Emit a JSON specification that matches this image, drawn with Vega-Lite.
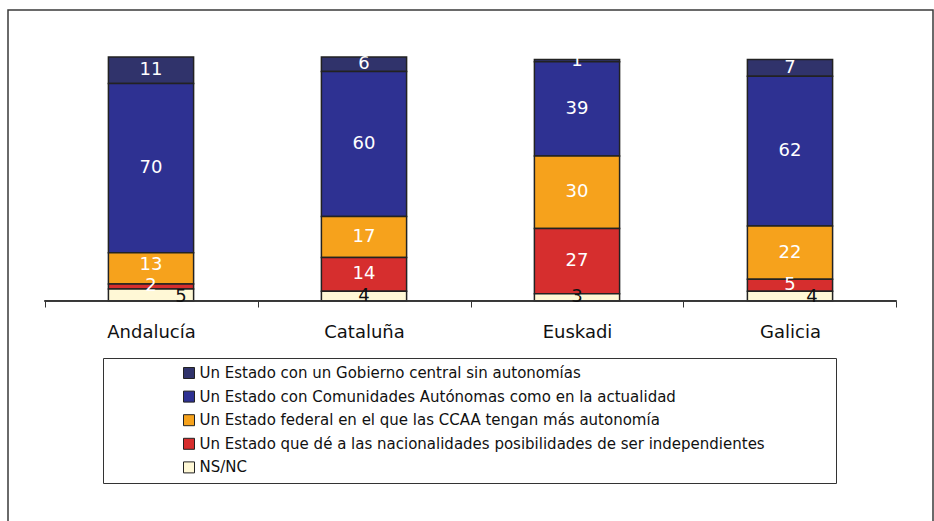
{
  "$schema": "https://vega.github.io/schema/vega-lite/v6.json",
  "autosize": {"type": "none"},
  "width": 925,
  "height": 520,
  "padding": {"left": 8, "top": 10, "right": 1, "bottom": 0},
  "background": "white",
  "config": {
    "view": {"stroke": "#3a3a3a", "strokeWidth": 1.5},
    "font": "DejaVu Sans",
    "legend": {"strokeColor": "#333333"}
  },
  "data": {
    "values": [
      {"region": "Andalucía", "cod": 1, "opcion": "Un Estado con un Gobierno central sin autonomías", "valor": 11},
      {"region": "Andalucía", "cod": 2, "opcion": "Un Estado con Comunidades Autónomas como en la actualidad", "valor": 70},
      {"region": "Andalucía", "cod": 3, "opcion": "Un Estado federal en el que las CCAA tengan más autonomía", "valor": 13},
      {"region": "Andalucía", "cod": 4, "opcion": "Un Estado que dé a las nacionalidades posibilidades de ser independientes", "valor": 2},
      {"region": "Andalucía", "cod": 5, "opcion": "NS/NC", "valor": 5},
      {"region": "Cataluña", "cod": 1, "opcion": "Un Estado con un Gobierno central sin autonomías", "valor": 6},
      {"region": "Cataluña", "cod": 2, "opcion": "Un Estado con Comunidades Autónomas como en la actualidad", "valor": 60},
      {"region": "Cataluña", "cod": 3, "opcion": "Un Estado federal en el que las CCAA tengan más autonomía", "valor": 17},
      {"region": "Cataluña", "cod": 4, "opcion": "Un Estado que dé a las nacionalidades posibilidades de ser independientes", "valor": 14},
      {"region": "Cataluña", "cod": 5, "opcion": "NS/NC", "valor": 4},
      {"region": "Euskadi", "cod": 1, "opcion": "Un Estado con un Gobierno central sin autonomías", "valor": 1},
      {"region": "Euskadi", "cod": 2, "opcion": "Un Estado con Comunidades Autónomas como en la actualidad", "valor": 39},
      {"region": "Euskadi", "cod": 3, "opcion": "Un Estado federal en el que las CCAA tengan más autonomía", "valor": 30},
      {"region": "Euskadi", "cod": 4, "opcion": "Un Estado que dé a las nacionalidades posibilidades de ser independientes", "valor": 27},
      {"region": "Euskadi", "cod": 5, "opcion": "NS/NC", "valor": 3},
      {"region": "Galicia", "cod": 1, "opcion": "Un Estado con un Gobierno central sin autonomías", "valor": 7},
      {"region": "Galicia", "cod": 2, "opcion": "Un Estado con Comunidades Autónomas como en la actualidad", "valor": 62},
      {"region": "Galicia", "cod": 3, "opcion": "Un Estado federal en el que las CCAA tengan más autonomía", "valor": 22},
      {"region": "Galicia", "cod": 4, "opcion": "Un Estado que dé a las nacionalidades posibilidades de ser independientes", "valor": 5},
      {"region": "Galicia", "cod": 5, "opcion": "NS/NC", "valor": 4}
    ]
  },
  "transform": [
    {"stack": "valor", "groupby": ["region"], "sort": [{"field": "cod", "order": "descending"}], "as": ["y0", "y1"]},
    {"calculate": "(datum.y0 + datum.y1) / 2", "as": "ymid"}
  ],
  "encoding": {
    "x": {
      "field": "region",
      "type": "nominal",
      "sort": ["Andalucía", "Cataluña", "Euskadi", "Galicia"],
      "scale": {"paddingInner": 0, "paddingOuter": 0.1714},
      "axis": {
        "title": null,
        "orient": "bottom",
        "offset": -229,
        "domain": false,
        "tickBand": "extent",
        "tickSize": 6,
        "tickColor": "#333333",
        "tickWidth": 1,
        "labelAngle": 0,
        "labelFontSize": 18,
        "labelColor": "#111111",
        "labelPadding": 16,
        "labelFont": "DejaVu Sans"
      }
    }
  },
  "layer": [
    {
      "mark": {"type": "bar", "width": {"band": 0.4}, "stroke": "#222222", "strokeWidth": 1.5},
      "encoding": {
        "y": {"field": "y0", "type": "quantitative", "scale": {"domain": [-94.8, 120.45], "nice": false, "zero": false}, "axis": null},
        "y2": {"field": "y1"},
        "color": {
          "field": "opcion",
          "type": "nominal",
          "scale": {
            "domain": [
              "Un Estado con un Gobierno central sin autonomías",
              "Un Estado con Comunidades Autónomas como en la actualidad",
              "Un Estado federal en el que las CCAA tengan más autonomía",
              "Un Estado que dé a las nacionalidades posibilidades de ser independientes",
              "NS/NC"
            ],
            "range": ["#30336b", "#2e3192", "#f6a21c", "#d62e2e", "#fff8d6"]
          },
          "legend": {
            "title": "\u00a0",
            "titleOrient": "right",
            "titlePadding": 64,
            "orient": "none",
            "legendX": 95,
            "legendY": 348,
            "strokeColor": "#333333",
            "padding": 7.5,
            "symbolOffset": 71,
            "symbolType": "square",
            "symbolSize": 121,
            "symbolStrokeColor": "#222222",
            "symbolStrokeWidth": 1,
            "labelFontSize": 15,
            "labelColor": "#111111",
            "labelLimit": 700,
            "labelOffset": 3,
            "rowPadding": 7.6,
            "labelFont": "DejaVu Sans"
          }
        }
      }
    },
    {
      "mark": {"type": "rule", "color": "#333333", "strokeWidth": 1},
      "encoding": {
        "x": {"field": "region", "type": "nominal", "sort": ["Andalucía", "Cataluña", "Euskadi", "Galicia"], "bandPosition": 0},
        "x2": {"field": "region", "bandPosition": 1},
        "y": {"datum": 0, "type": "quantitative"}
      }
    },
    {
      "transform": [{"filter": "!(datum.region === 'Andalucía' && (datum.cod === 5 || datum.cod === 3)) && !(datum.cod === 5 && datum.region === 'Galicia')"}],
      "mark": {"type": "text", "fontSize": 18, "baseline": "middle", "align": "center"},
      "encoding": {
        "y": {"field": "ymid", "type": "quantitative"},
        "text": {"field": "valor", "type": "quantitative"},
        "color": {
          "condition": {"test": "datum.cod === 5", "value": "#111111"},
          "value": "white"
        }
      }
    },
    {
      "transform": [{"filter": "datum.cod === 3 && datum.region === 'Andalucía'"}],
      "mark": {"type": "text", "fontSize": 18, "baseline": "middle", "align": "center", "dy": -3, "color": "white"},
      "encoding": {
        "y": {"field": "ymid", "type": "quantitative"},
        "text": {"field": "valor", "type": "quantitative"}
      }
    },
    {
      "transform": [{"filter": "datum.cod === 5 && datum.region === 'Andalucía'"}],
      "mark": {"type": "text", "fontSize": 18, "baseline": "middle", "align": "center", "dx": 30, "dy": 2, "color": "#111111"},
      "encoding": {
        "y": {"field": "ymid", "type": "quantitative"},
        "text": {"field": "valor", "type": "quantitative"}
      }
    },
    {
      "transform": [{"filter": "datum.cod === 5 && datum.region === 'Galicia'"}],
      "mark": {"type": "text", "fontSize": 18, "baseline": "middle", "align": "center", "dx": 22, "dy": 1, "color": "#111111"},
      "encoding": {
        "y": {"field": "ymid", "type": "quantitative"},
        "text": {"field": "valor", "type": "quantitative"}
      }
    }
  ]
}
